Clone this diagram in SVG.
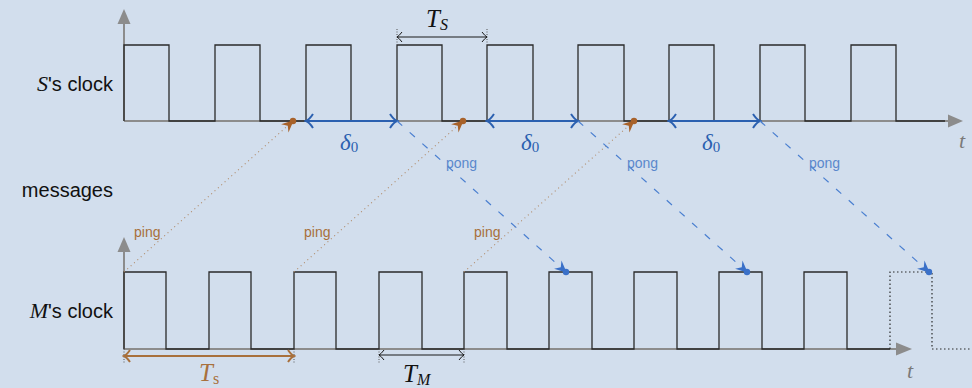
<svg xmlns="http://www.w3.org/2000/svg" width="972" height="388" viewBox="0 0 972 388">
<style>
.lbl{font-family:"Liberation Sans","DejaVu Sans",sans-serif;font-size:20px;fill:#111}
.cal{font-family:"Liberation Serif","DejaVu Serif",serif;font-style:italic}
.axis{stroke:#8c8c8c;stroke-width:2;fill:none}
.sig{stroke:#2a2a2a;stroke-width:1.3;fill:none}
.ping{stroke:#b08a68;stroke-width:1.1;stroke-dasharray:1 3.5;fill:none}
.pong{stroke:#4a7fd0;stroke-width:1.2;stroke-dasharray:7 10;fill:none}
.pingt{font-family:"Liberation Sans","DejaVu Sans",sans-serif;font-size:14px;fill:#a8703c}
.pongt{font-family:"Liberation Sans","DejaVu Sans",sans-serif;font-size:14px;fill:#5a88cc}
.delta{stroke:#2b60b0;stroke-width:2;fill:none}
.dim{stroke:#1a1a1a;stroke-width:1;fill:none}
.tick{stroke:#555;stroke-width:1;stroke-dasharray:1 1.5;fill:none}
.dl{font-family:"Liberation Serif","DejaVu Serif",serif;font-style:italic;font-size:23px;fill:#2b60b0}
</style>
<defs>
<marker id="openBlue" viewBox="-10 -8 12 16" refX="0" refY="0" markerWidth="12" markerHeight="16" markerUnits="userSpaceOnUse" orient="auto-start-reverse">
<path d="M-7,-7 Q-3,-1 0,0 Q-3,1 -7,7" stroke="#2b60b0" stroke-width="2" fill="none"/>
</marker>
<marker id="openBlack" viewBox="-8 -6 10 12" refX="0" refY="0" markerWidth="10" markerHeight="12" markerUnits="userSpaceOnUse" orient="auto-start-reverse">
<path d="M-5,-5 Q-2,-1 0,0 Q-2,1 -5,5" stroke="#1a1a1a" stroke-width="1" fill="none"/>
</marker>
<marker id="openBrown" viewBox="-10 -8 12 16" refX="0" refY="0" markerWidth="12" markerHeight="16" markerUnits="userSpaceOnUse" orient="auto-start-reverse">
<path d="M-6,-6 Q-2.5,-1 0,0 Q-2.5,1 -6,6" stroke="#a8703c" stroke-width="2" fill="none"/>
</marker>
<marker id="pingHead" viewBox="-14 -7 16 14" refX="-1" refY="0" markerWidth="16" markerHeight="14" markerUnits="userSpaceOnUse" orient="auto">
<path d="M0,0 L-12,-5.5 L-8,0 L-12,5.5 Z" fill="#a8622a"/>
</marker>
<marker id="pongHead" viewBox="-14 -7 16 14" refX="-1" refY="0" markerWidth="16" markerHeight="14" markerUnits="userSpaceOnUse" orient="auto">
<path d="M0,0 L-12,-5.5 L-8,0 L-12,5.5 Z" fill="#3a70c8"/>
</marker>
</defs>
<rect width="972" height="388" fill="#d2deed"/>

<g id="s-clock">
<line class="axis" x1="124" y1="121" x2="124" y2="22"/>
<polygon points="124,9 117.5,24 130.5,24" fill="#8c8c8c"/>
<line class="axis" x1="124" y1="121" x2="950" y2="121"/>
<polygon points="963,121 948,114.5 948,127.5" fill="#8c8c8c"/>
<path class="sig" d="M124,121 V45 H169 V121 H215 V45 H260 V121 H306 V45 H351 V121 H397 V45 H442 V121 H487 V45 H533 V121 H578 V45 H624 V121 H669 V45 H714 V121 H760 V45 H805 V121 H851 V45 H896 V121 H945"/>
<text x="959" y="148" font-family="Liberation Serif,serif" font-style="italic" font-size="22" fill="#7a7a7a">t</text>
</g>

<g id="m-clock">
<line class="axis" x1="124" y1="349" x2="124" y2="250"/>
<polygon points="124,237 117.5,252 130.5,252" fill="#8c8c8c"/>
<line class="axis" x1="124" y1="349" x2="898" y2="349"/>
<polygon points="912,349 896,342.5 896,355.5" fill="#8c8c8c"/>
<path class="sig" d="M124,349 V272 H166 V349 H209 V272 H251 V349 H294 V272 H336 V349 H379 V272 H422 V349 H464 V272 H507 V349 H549 V272 H592 V349 H634 V272 H677 V349 H719 V272 H762 V349 H804 V272 H847 V349 H890"/>
<path d="M890,349 V272 H932 V349 H972" stroke="#2a2a2a" stroke-width="1.2" stroke-dasharray="1.5 2.5" fill="none"/>
<text x="907" y="378" font-family="Liberation Serif,serif" font-style="italic" font-size="22" fill="#7a7a7a">t</text>
</g>

<g id="row-labels">
<text class="lbl" x="113" y="91" text-anchor="end"><tspan class="cal" font-size="22">S</tspan>'s clock</text>
<text class="lbl" x="113" y="197" text-anchor="end">messages</text>
<text class="lbl" x="113" y="318" text-anchor="end"><tspan class="cal" font-size="22">M</tspan>'s clock</text>
</g>

<g id="period-s">
<line class="tick" x1="397" y1="29" x2="397" y2="44"/>
<line class="tick" x1="487" y1="29" x2="487" y2="44"/>
<line class="dim" x1="397" y1="37" x2="487" y2="37" marker-start="url(#openBlack)" marker-end="url(#openBlack)"/>
<text x="426" y="27" font-family="Liberation Serif,serif" font-style="italic" font-size="25" fill="#111">T<tspan font-size="16" dy="3">S</tspan></text>
</g>

<g id="period-m">
<line class="tick" x1="379" y1="349" x2="379" y2="363"/>
<line class="tick" x1="464" y1="349" x2="464" y2="363"/>
<line class="dim" x1="379" y1="355" x2="464" y2="355" marker-start="url(#openBlack)" marker-end="url(#openBlack)"/>
<text x="403" y="382" font-family="Liberation Serif,serif" font-style="italic" font-size="25" fill="#111">T<tspan font-size="16" dy="3">M</tspan></text>
</g>

<g id="period-ping">
<line class="tick" x1="124" y1="349" x2="124" y2="364"/>
<line class="tick" x1="294" y1="349" x2="294" y2="364"/>
<line x1="124" y1="356" x2="294" y2="356" stroke="#a8703c" stroke-width="2" marker-start="url(#openBrown)" marker-end="url(#openBrown)"/>
<text x="199" y="381" font-family="Liberation Serif,serif" font-style="italic" font-size="25" fill="#a8703c">T<tspan font-style="normal" font-size="16" dy="3">s</tspan></text>
</g>

<g id="delta-1">
<line class="delta" x1="306" y1="121" x2="397" y2="121" marker-start="url(#openBlue)" marker-end="url(#openBlue)"/>
<text class="dl" x="340" y="150">δ<tspan font-style="normal" font-size="15" dy="2">0</tspan></text>
</g>
<g id="delta-2">
<line class="delta" x1="487" y1="121" x2="578" y2="121" marker-start="url(#openBlue)" marker-end="url(#openBlue)"/>
<text class="dl" x="521" y="150">δ<tspan font-style="normal" font-size="15" dy="2">0</tspan></text>
</g>
<g id="delta-3">
<line class="delta" x1="669" y1="121" x2="760" y2="121" marker-start="url(#openBlue)" marker-end="url(#openBlue)"/>
<text class="dl" x="702" y="150">δ<tspan font-style="normal" font-size="15" dy="2">0</tspan></text>
</g>

<g id="connectors">
<line class="ping" x1="124" y1="272" x2="293" y2="121" marker-end="url(#pingHead)"/>
<line class="ping" x1="294" y1="272" x2="463" y2="121" marker-end="url(#pingHead)"/>
<line class="ping" x1="464" y1="272" x2="634" y2="121" marker-end="url(#pingHead)"/>
<circle cx="293" cy="121" r="3.2" fill="#a8622a"/>
<circle cx="463" cy="121" r="3.2" fill="#a8622a"/>
<circle cx="634" cy="121" r="3.2" fill="#a8622a"/>
<line class="pong" x1="397" y1="121" x2="566" y2="272" marker-end="url(#pongHead)"/>
<line class="pong" x1="578" y1="121" x2="747" y2="272" marker-end="url(#pongHead)"/>
<line class="pong" x1="760" y1="121" x2="929" y2="272" marker-end="url(#pongHead)"/>
<circle cx="566" cy="272" r="3.2" fill="#3a70c8"/>
<circle cx="747" cy="272" r="3.2" fill="#3a70c8"/>
<circle cx="929" cy="272" r="3.2" fill="#3a70c8"/>
<text class="pingt" x="134" y="237">ping</text>
<text class="pingt" x="304" y="237">ping</text>
<text class="pingt" x="474" y="237">ping</text>
<text class="pongt" x="446" y="168">pong</text>
<text class="pongt" x="627" y="168">pong</text>
<text class="pongt" x="809" y="168">pong</text>
</g>
</svg>
